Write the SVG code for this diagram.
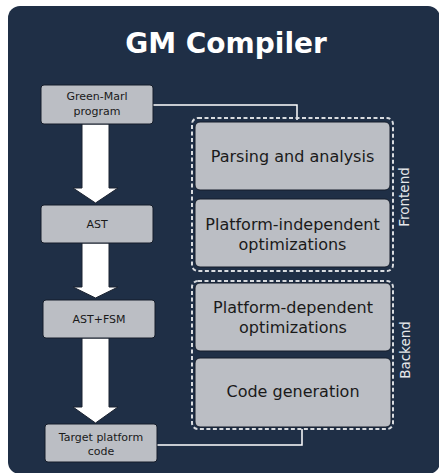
<svg xmlns="http://www.w3.org/2000/svg" width="439" height="473" viewBox="0 0 439 473">
<style>
.bg{fill:#1f2f46}
.box{fill:#bbbec4;stroke:#151d2a;stroke-width:1}
.grp{fill:none;stroke:#d9dce0;stroke-width:2;stroke-dasharray:4 2.5}
.t{font-family:"DejaVu Sans",sans-serif;fill:#1a1a1a;text-anchor:middle}
.s{font-size:11px}
.l{font-size:16px}
.lab{font-family:"DejaVu Sans",sans-serif;font-size:13.5px;fill:#e6e8eb;text-anchor:middle}
.title{font-family:"DejaVu Sans",sans-serif;font-size:28px;font-weight:bold;fill:#ffffff;text-anchor:middle}
.conn{fill:none;stroke:#ffffff;stroke-width:1.5}
.arrow{fill:#ffffff;stroke:#1a2230;stroke-width:1}
</style>
<rect class="bg" x="8" y="6" width="432" height="468" rx="12"/>
<text class="title" x="226" y="53">GM Compiler</text>
<g id="connectors">
<polygon class="arrow" points="82,124 109,124 109,188 118,188 95.5,203 73,188 82,188"/>
<polygon class="arrow" points="82,243 109,243 109,287 118,287 95.5,298 73,287 82,287"/>
<polygon class="arrow" points="82,338 109,338 109,407 118,407 95.5,423 73,407 82,407"/>
<polyline class="conn" points="153,105 297,105 297,120"/>
<polyline class="conn" points="157,445 302,445 302,429"/>
</g>
<g id="frontend">
<rect class="grp" x="192" y="118" width="201" height="153" rx="6"/>
<text class="lab" transform="translate(409,197) rotate(-90)">Frontend</text>
</g>
<g id="backend">
<rect class="grp" x="192" y="281" width="201" height="148" rx="6"/>
<text class="lab" transform="translate(410,350) rotate(-90)">Backend</text>
</g>
<g id="green-marl">
<rect class="box" x="41" y="85" width="112" height="39" rx="3"/>
<text class="t s" x="97" y="100">Green-Marl</text>
<text class="t s" x="97" y="115">program</text>
</g>
<g id="ast">
<rect class="box" x="41" y="205" width="112" height="38" rx="3"/>
<text class="t s" x="97" y="228">AST</text>
</g>
<g id="ast-fsm">
<rect class="box" x="43" y="300" width="112" height="38" rx="3"/>
<text class="t s" x="99" y="323">AST+FSM</text>
</g>
<g id="target">
<rect class="box" x="45" y="424" width="112" height="38" rx="3"/>
<text class="t s" x="101" y="441">Target platform</text>
<text class="t s" x="101" y="455">code</text>
</g>
<g id="parsing">
<rect class="box" x="195" y="122" width="195" height="68" rx="5"/>
<text class="t l" x="292.5" y="162">Parsing and analysis</text>
</g>
<g id="pi-opt">
<rect class="box" x="195" y="199" width="195" height="68" rx="5"/>
<text class="t l" x="292.5" y="230">Platform-independent</text>
<text class="t l" x="292.5" y="250">optimizations</text>
</g>
<g id="pd-opt">
<rect class="box" x="195" y="283" width="196" height="68" rx="5"/>
<text class="t l" x="293" y="313">Platform-dependent</text>
<text class="t l" x="293" y="333">optimizations</text>
</g>
<g id="codegen">
<rect class="box" x="195" y="358" width="196" height="69" rx="5"/>
<text class="t l" x="293" y="397">Code generation</text>
</g>
</svg>
